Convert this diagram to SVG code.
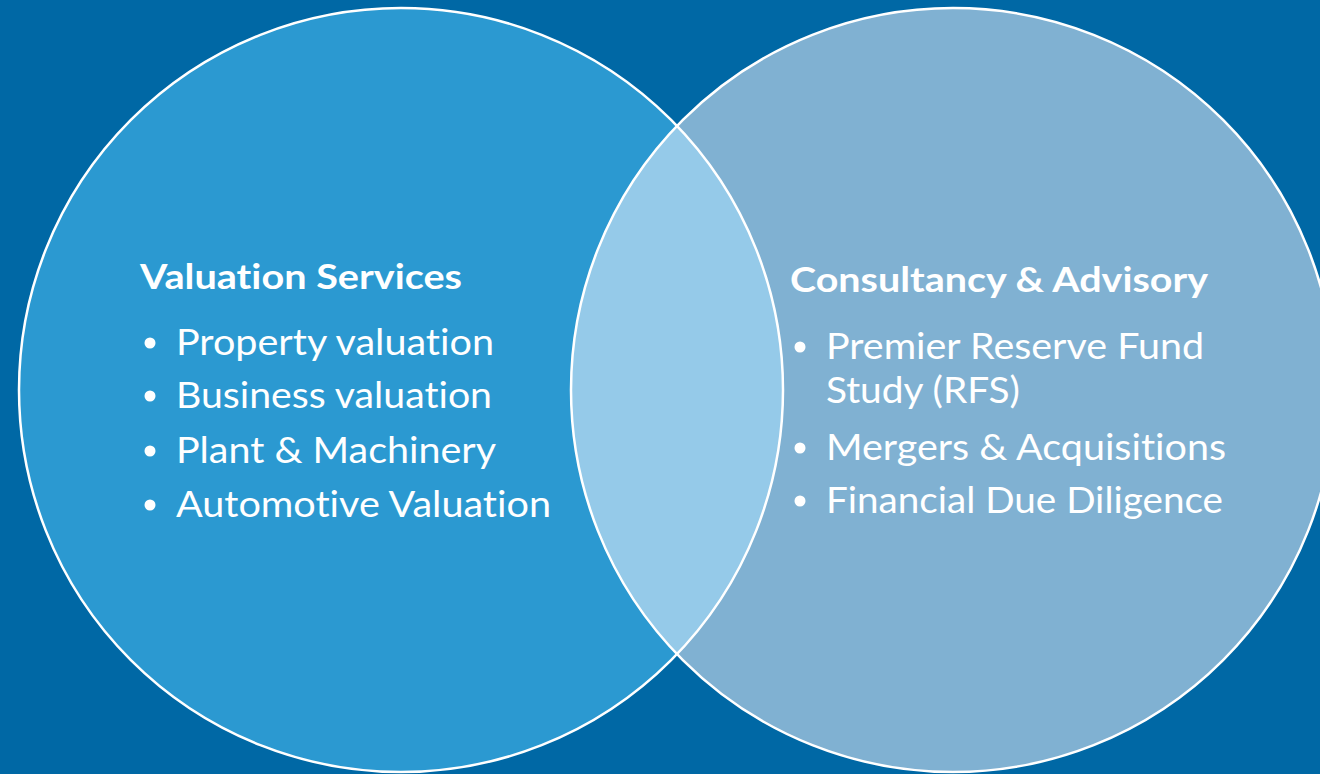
<svg xmlns="http://www.w3.org/2000/svg" width="1320" height="774" viewBox="0 0 1320 774">
<style>
.t{font-family:Lato,"Open Sans","Liberation Sans",sans-serif;fill:#ffffff;font-variant-ligatures:none;font-feature-settings:"liga" 0,"clig" 0}
.h{font-size:34px;font-weight:bold}
.i{font-size:36px}
.c{stroke:#ffffff;stroke-width:2.5}
</style>
<defs>
<clipPath id="clipL"><circle cx="401" cy="390" r="382"/></clipPath>
</defs>
<rect x="0" y="0" width="1320" height="774" fill="#0068A5"/>
<g id="left-circle">
<circle cx="401" cy="390" r="382" fill="#2B99D1"/>
</g>
<g id="right-circle">
<circle cx="953" cy="390" r="382" fill="#80B1D2"/>
</g>
<g id="overlap">
<circle cx="953" cy="390" r="382" fill="#95CAE9" clip-path="url(#clipL)"/>
</g>
<g id="outlines" fill="none">
<circle class="c" cx="401" cy="390" r="382"/>
<circle class="c" cx="953" cy="390" r="382"/>
</g>
<g id="valuation-services">
<text class="t h" x="140" y="289" textLength="322" lengthAdjust="spacingAndGlyphs">Valuation Services</text>
<circle cx="150" cy="343" r="5.5" fill="#fff"/>
<text class="t i" x="176" y="355" textLength="318" lengthAdjust="spacingAndGlyphs">Property valuation</text>
<circle cx="150" cy="396" r="5.5" fill="#fff"/>
<text class="t i" x="176" y="408" textLength="316" lengthAdjust="spacingAndGlyphs">Business valuation</text>
<circle cx="150" cy="451" r="5.5" fill="#fff"/>
<text class="t i" x="176" y="463" textLength="320" lengthAdjust="spacingAndGlyphs">Plant &amp; Machinery</text>
<circle cx="150" cy="505" r="5.5" fill="#fff"/>
<text class="t i" x="176" y="517" textLength="375" lengthAdjust="spacingAndGlyphs">Automotive Valuation</text>
</g>
<g id="consultancy-advisory">
<text class="t h" x="790" y="292" textLength="418" lengthAdjust="spacingAndGlyphs">Consultancy &amp; Advisory</text>
<circle cx="800" cy="347" r="5.5" fill="#fff"/>
<text class="t i" x="826" y="359" textLength="378" lengthAdjust="spacingAndGlyphs">Premier Reserve Fund</text>
<text class="t i" x="826" y="403" textLength="194" lengthAdjust="spacingAndGlyphs">Study (RFS)</text>
<circle cx="800" cy="448" r="5.5" fill="#fff"/>
<text class="t i" x="826" y="460" textLength="400" lengthAdjust="spacingAndGlyphs">Mergers &amp; Acquisitions</text>
<circle cx="800" cy="501" r="5.5" fill="#fff"/>
<text class="t i" x="826" y="513" textLength="397" lengthAdjust="spacingAndGlyphs">Financial Due Diligence</text>
</g>
</svg>
